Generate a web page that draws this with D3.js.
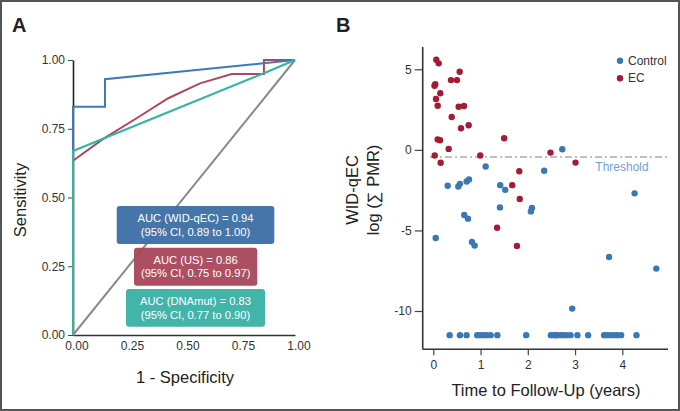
<!DOCTYPE html>
<html>
<head>
<meta charset="utf-8">
<script src="https://cdn.jsdelivr.net/npm/d3@7"></script>
<style>
  html, body { margin: 0; padding: 0; background: #fff; }
  svg { display: block; font-family: "Liberation Sans", Arial, Helvetica, sans-serif; }
</style>
</head>
<body>
<svg id="chart" width="680" height="411"></svg>
<script>
// ---------- Panel A data (ROC curves: [1 - specificity, sensitivity]) ----------
const rocWID = [[0, 0], [0, 0.83], [0.144, 0.83], [0.144, 0.93], [1, 1]];
const rocUS = [[0, 0], [0, 0.634], [0.136, 0.713], [0.29, 0.79], [0.429, 0.861], [0.572, 0.915], [0.715, 0.949], [0.86, 0.949], [0.86, 1], [1, 1]];
const rocDNA = [[0, 0], [0, 0.669], [0.86, 0.952], [1, 1]];
const rocRef = [[0, 0], [1, 1]];
const aTicks = [0, 0.25, 0.5, 0.75, 1];
const aucLine1 = ["AUC (WID-qEC) = 0.94", "AUC (US) = 0.86", "AUC (DNAmut) = 0.83"];
const aucLine2 = ["(95% CI, 0.89 to 1.00)", "(95% CI, 0.75 to 0.97)", "(95% CI, 0.77 to 0.90)"];

// ---------- Panel B data ([years, log sum PMR]) ----------
const ecPoints = [
  [0.063, 5.59], [0.114, 5.37], [0.558, 4.85], [0.374, 4.33], [0.501, 4.33],
  [0.025, 3.98], [0.042, 4.07], [0.148, 3.51], [0.057, 3.16], [0.093, 2.74],
  [0.537, 2.68], [0.649, 2.72], [0.389, 2.04], [0.748, 1.53], [0.586, 1.34],
  [0.093, 0.64], [0.142, 0.60], [1.50, 0.72], [0.326, 0.06], [0.030, -0.35],
  [0.994, -0.35], [0.156, -0.80], [2.48, -0.17], [3.01, -0.79], [1.82, -1.33],
  [1.67, -2.19], [1.83, -3.05], [1.35, -4.83], [1.77, -5.96], [2.61, -11.5]
];
const controlPoints = [
  [1.108, -1.03], [2.347, -1.30], [0.304, -2.23], [0.529, -2.27], [0.564, -2.11],
  [0.706, -1.96], [0.755, -1.84], [1.416, -2.19], [1.522, -2.48], [0.655, -4.04],
  [0.734, -4.27], [1.410, -3.57], [2.066, -3.82], [2.087, -3.61], [0.051, -5.47],
  [0.818, -5.72], [0.875, -5.94], [2.73, 0.04], [4.26, -2.70], [3.72, -6.65],
  [4.72, -7.37], [2.94, -9.85],
  [0.346, -11.5], [0.564, -11.5], [0.705, -11.5], [0.93, -11.5], [0.99, -11.5],
  [1.057, -11.5], [1.128, -11.5], [1.213, -11.5], [1.355, -11.5], [1.966, -11.5],
  [2.488, -11.5], [2.537, -11.5], [2.594, -11.5], [2.693, -11.5], [2.749, -11.5],
  [2.82, -11.5], [2.905, -11.5], [3.05, -11.5], [3.277, -11.5], [3.615, -11.5],
  [3.679, -11.5], [3.75, -11.5], [3.82, -11.5], [3.89, -11.5], [3.975, -11.5],
  [4.30, -11.5]
];
const threshold = -0.45;
const bXTicks = [0, 1, 2, 3, 4];
const bYTicks = [-10, -5, 0, 5];
const legendLabels = ["Control", "EC"];

// ---------- Styles ----------
const C = {
  wid: "#3d7ab8", us: "#b0485c", dna: "#31b3a6", ref: "#8a8a8a",
  widBox: "#3c6fa4", usBox: "#a8465b", dnaBox: "#38b0a5",
  ctrl: "#3b78b3", ec: "#a31c33", text: "#333"
};

const svg = d3.select("#chart");

// outer border
svg.append("rect").attr("x", 1).attr("y", 1).attr("width", 678).attr("height", 409)
  .attr("fill", "none").attr("stroke", "#555").attr("stroke-width", 2);

// panel letters
svg.append("text").attr("x", 12).attr("y", 32).attr("font-size", 20).attr("font-weight", "bold").attr("fill", "#222").text("A");
svg.append("text").attr("x", 336).attr("y", 32).attr("font-size", 20).attr("font-weight", "bold").attr("fill", "#222").text("B");

// ================= Panel A =================
const xA = d3.scaleLinear().domain([0, 1]).range([73, 295]);
const yA = d3.scaleLinear().domain([0, 1]).range([335, 60]);
const gA = svg.append("g");

// axes
const yAxisA = d3.axisLeft(yA).tickValues(aTicks).tickFormat(d3.format(".2f")).tickSize(5).tickSizeOuter(0).tickPadding(3);
const gyA = gA.append("g").attr("transform", `translate(${xA(0)},0)`).call(yAxisA);
gyA.select(".domain").attr("stroke", "#222").attr("stroke-width", 1.6);
gyA.selectAll(".tick line").attr("stroke", "#444");
gyA.selectAll("text").attr("font-size", 12).attr("fill", C.text);

const xAxisA = d3.axisBottom(xA).tickValues(aTicks).tickFormat(d3.format(".2f")).tickSize(0).tickSizeOuter(0).tickPadding(6);
const gxA = gA.append("g").attr("transform", `translate(0,${yA(0)})`).call(xAxisA);
gxA.select(".domain").attr("stroke", "#333").attr("stroke-width", 1.6);
gxA.selectAll("text").attr("font-size", 12).attr("fill", C.text).attr("dx", 3.5);

gA.append("text").attr("transform", "translate(20,200) rotate(-90)")
  .attr("text-anchor", "middle").attr("dominant-baseline", "central")
  .attr("font-size", 16.5).attr("fill", "#222").text("Sensitivity");
gA.append("text").attr("x", 185).attr("y", 383)
  .attr("text-anchor", "middle").attr("font-size", 16.5).attr("fill", "#222").text("1 - Specificity");

const lineA = d3.line().x(d => xA(d[0])).y(d => yA(d[1]));
[[rocRef, C.ref], [rocUS, C.us], [rocWID, C.wid], [rocDNA, C.dna]].forEach(([data, col]) => {
  gA.append("path").datum(data).attr("d", lineA).attr("fill", "none")
    .attr("stroke", col).attr("stroke-width", 2).attr("stroke-linejoin", "miter");
});

// AUC boxes
const boxes = [
  { x0: 116.7, x1: 274.3, y0: 206, y1: 244, col: C.widBox },
  { x0: 134, x1: 257.3, y0: 247.7, y1: 285.7, col: C.usBox },
  { x0: 126, x1: 265, y0: 289, y1: 326.7, col: C.dnaBox }
];
boxes.forEach((b, i) => {
  gA.append("rect").attr("x", b.x0).attr("y", b.y0).attr("width", b.x1 - b.x0).attr("height", b.y1 - b.y0)
    .attr("rx", 3).attr("fill", b.col).attr("opacity", 0.95);
  const cx = (b.x0 + b.x1) / 2;
  gA.append("text").attr("x", cx).attr("y", b.y0 + 12.3).attr("text-anchor", "middle")
    .attr("dominant-baseline", "central").attr("font-size", 11.2).attr("fill", "#fff").text(aucLine1[i]);
  gA.append("text").attr("x", cx).attr("y", b.y0 + 25.7).attr("text-anchor", "middle")
    .attr("dominant-baseline", "central").attr("font-size", 11.2).attr("fill", "#fff").text(aucLine2[i]);
});

// ================= Panel B =================
const xB = d3.scaleLinear().domain([0, 4]).range([433.3, 622.3]);
const yB = d3.scaleLinear().domain([-10, 5]).range([311, 69.3]);
const gB = svg.append("g");
const spineX = 422.7, axisY = 349.3;
const plainNum = d => String(d);

const yAxisB = d3.axisLeft(yB).tickValues(bYTicks).tickFormat(plainNum).tickSize(8).tickSizeOuter(0).tickPadding(3);
const gyB = gB.append("g").attr("transform", `translate(${spineX},0)`).call(yAxisB);
gyB.select(".domain").remove();
gyB.selectAll(".tick line").attr("stroke", "#444").attr("stroke-width", 1.2);
gyB.selectAll("text").attr("font-size", 12).attr("fill", C.text);
gB.append("line").attr("x1", spineX).attr("x2", spineX).attr("y1", 47).attr("y2", axisY)
  .attr("stroke", "#333").attr("stroke-width", 1.6);

const xAxisB = d3.axisBottom(xB).tickValues(bXTicks).tickFormat(plainNum).tickSize(6).tickSizeOuter(0).tickPadding(5);
const gxB = gB.append("g").attr("transform", `translate(0,${axisY})`).call(xAxisB);
gxB.select(".domain").remove();
gxB.selectAll(".tick line").attr("stroke", "#444").attr("stroke-width", 1.2);
gxB.selectAll("text").attr("font-size", 12).attr("fill", C.text);
gB.append("line").attr("x1", spineX).attr("x2", 668).attr("y1", axisY).attr("y2", axisY)
  .attr("stroke", "#333").attr("stroke-width", 1.6);

// titles
gB.append("text").attr("transform", "translate(352,190) rotate(-90)")
  .attr("text-anchor", "middle").attr("dominant-baseline", "central")
  .attr("font-size", 16.5).attr("fill", "#222").text("WID-qEC");
gB.append("text").attr("transform", "translate(373,190) rotate(-90)")
  .attr("text-anchor", "middle").attr("dominant-baseline", "central")
  .attr("font-size", 16.5).attr("fill", "#222").text("log (∑ PMR)");
gB.append("text").attr("x", 546).attr("y", 396).attr("text-anchor", "middle")
  .attr("font-size", 16.5).attr("fill", "#222").text("Time to Follow-Up (years)");

// threshold line
gB.append("line").attr("x1", 430).attr("x2", 668).attr("y1", yB(threshold)).attr("y2", yB(threshold))
  .attr("stroke", "#aaa").attr("stroke-width", 1.5).attr("stroke-dasharray", "7,3,2,3");
gB.append("text").attr("x", 622).attr("y", yB(threshold) + 9.5).attr("text-anchor", "middle")
  .attr("dominant-baseline", "central").attr("font-size", 12).attr("fill", "#6f9fd6").text("Threshold");

// points (EC first, controls on top, as in the reference's bottom row)
gB.append("g").selectAll("circle").data(ecPoints).join("circle")
  .attr("cx", d => xB(d[0])).attr("cy", d => yB(d[1])).attr("r", 3.2).attr("fill", C.ec);
gB.append("g").selectAll("circle").data(controlPoints).join("circle")
  .attr("cx", d => xB(d[0])).attr("cy", d => yB(d[1])).attr("r", 3.2).attr("fill", C.ctrl);

// legend
[C.ctrl, C.ec].forEach((col, i) => {
  const ly = 60.7 + i * 17.6;
  gB.append("circle").attr("cx", 620).attr("cy", ly).attr("r", 3.2).attr("fill", col);
  gB.append("text").attr("x", 628).attr("y", ly).attr("dominant-baseline", "central")
    .attr("font-size", 12).attr("fill", C.text).text(legendLabels[i]);
});
</script>
</body>
</html>
